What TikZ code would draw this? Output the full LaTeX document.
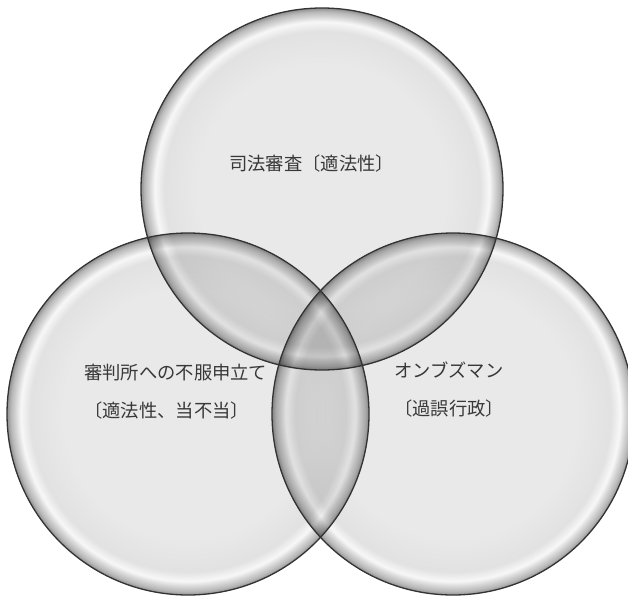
\documentclass[tikz,border=0pt]{standalone}
\usepackage{fontspec}
\newfontfamily\jpfont{Noto Sans CJK JP}
\definecolor{gIn}{gray}{0.915}
\definecolor{gMid}{gray}{0.885}
\definecolor{gHi}{gray}{0.97}
\definecolor{gRim}{gray}{0.84}
\definecolor{gDark}{gray}{0.72}
\definecolor{gEdge}{gray}{0.56}
\definecolor{txt}{gray}{0.22}
\pgfdeclareradialshading{glass}{\pgfpoint{0bp}{0bp}}{%
  color(0bp)=(gIn); color(17bp)=(gIn); color(21.8bp)=(gMid);
  color(23.1bp)=(gHi); color(23.8bp)=(gRim); color(24.5bp)=(gDark);
  color(25bp)=(gEdge); color(50bp)=(gEdge)}
\tikzset{
  bubble/.style={circle, minimum size=362pt, inner sep=0pt, shade, shading=glass},
  rim/.style={circle, minimum size=362pt, inner sep=0pt, draw=black!80, line width=1.3pt},
  label/.style={font=\jpfont\fontsize{18.3}{38}\selectfont, text=txt, inner sep=0pt, align=left, anchor=base west}
}
\begin{document}
\begin{tikzpicture}[x=1pt,y=-1pt]
\useasboundingbox (0,0) rectangle (628,596);
\fill[white] (0,0) rectangle (628,596);
\begin{scope}
  \clip (0,0) rectangle (628,596);
  \begin{scope}[blend mode=multiply]
    \node[bubble] (top) at (322,189) {};
    \node[bubble] (left) at (188,414) {};
    \node[bubble] (right) at (453,414) {};
  \end{scope}
  \node[rim] (topR) at (top.center) {};
  \node[rim] (leftR) at (left.center) {};
  \node[rim] (rightR) at (right.center) {};
\end{scope}
\node[label] (t1) at (229,170) {司法審査〔適法性〕};
\node[label] (t2) at (84,417) {審判所への不服申立て\\〔適法性、当不当〕};
\node[label] (t3) at (394,415.5) {オンブズマン\\〔過誤行政〕};
\end{tikzpicture}
\end{document}
